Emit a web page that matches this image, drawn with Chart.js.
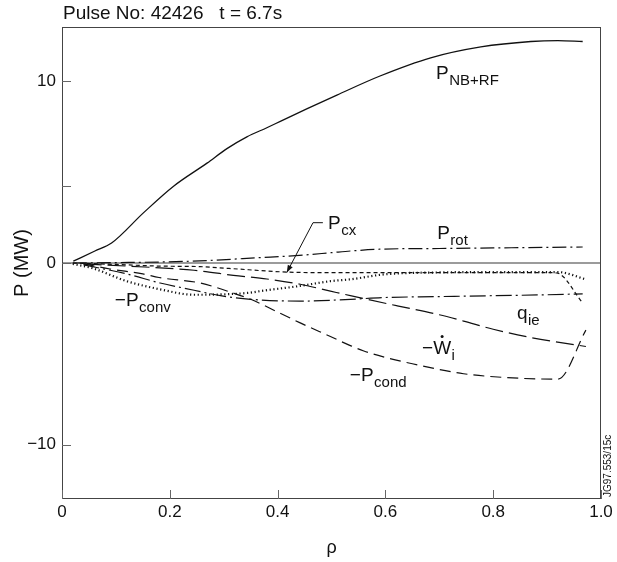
<!DOCTYPE html>
<html>
<head>
<meta charset="utf-8">
<script src="https://cdn.jsdelivr.net/npm/chart.js@4"></script>
<style>
  html, body { margin: 0; padding: 0; background: #fff; }
  #wrap { width: 617px; height: 562px; }
</style>
</head>
<body>
<div id="wrap"><canvas id="chart" width="617" height="562"></canvas></div>
<script>
/* Bilan de puissance ionique, JET pulse 42426 */

const FONT = "'Liberation Sans', Arial, sans-serif";

// axes
const xTicks = [0, 0.2, 0.4, 0.6, 0.8, 1.0];
const xTickLabels = ['0', '0.2', '0.4', '0.6', '0.8', '1.0'];
const yTicks = [-10, 0, 4.25, 10];
const yTickLabels = ['\u221210', '0', '', '10'];

// P_NB+RF
const rhoNbrf = [0.021, 0.061, 0.092, 0.151, 0.207, 0.269, 0.306, 0.343, 0.38, 0.405, 0.455, 0.51, 0.59, 0.684, 0.777, 0.87, 0.92, 0.966];
const pNbrf   = [0.1, 0.66, 1.1, 2.76, 4.23, 5.5, 6.3, 6.95, 7.45, 7.8, 8.5, 9.25, 10.3, 11.3, 11.9, 12.2, 12.25, 12.2];

// P_rot
const rhoRot = [0.02, 0.1, 0.24, 0.37, 0.44, 0.5, 0.535, 0.59, 0.7, 0.8, 0.9, 0.966];
const pRot   = [0, 0.02, 0.1, 0.3, 0.42, 0.57, 0.66, 0.76, 0.8, 0.83, 0.86, 0.88];

// P_cx
const rhoCx = [0.02, 0.1, 0.18, 0.256, 0.31, 0.418, 0.5, 0.6, 0.7, 0.8, 0.9, 0.918, 0.966];
const pCx   = [0, -0.08, -0.17, -0.2, -0.3, -0.5, -0.53, -0.53, -0.53, -0.53, -0.53, -0.55, -2.2];

// -P_conv
const rhoConv = [0.02, 0.058, 0.12, 0.182, 0.245, 0.306, 0.35, 0.37, 0.442, 0.498, 0.535, 0.6, 0.7, 0.8, 0.92, 0.972];
const pConv   = [-0.05, -0.3, -1.0, -1.45, -1.75, -1.72, -1.63, -1.54, -1.26, -1.0, -0.9, -0.62, -0.52, -0.5, -0.5, -0.9];

// q_ie
const rhoQie = [0.04, 0.12, 0.182, 0.245, 0.294, 0.35, 0.442, 0.535, 0.6, 0.7, 0.8, 0.9, 0.966];
const pQie   = [-0.1, -0.6, -1.1, -1.5, -1.8, -2.0, -2.1, -2.0, -1.9, -1.85, -1.8, -1.75, -1.7];

// -dW_i/dt
const rhoWi = [0.04, 0.12, 0.245, 0.318, 0.38, 0.442, 0.498, 0.535, 0.622, 0.7, 0.745, 0.8, 0.869, 0.972];
const pWi   = [-0.05, -0.17, -0.4, -0.68, -0.88, -1.17, -1.55, -1.8, -2.36, -2.85, -3.2, -3.65, -4.1, -4.6];

// -P_cond
const rhoCond = [0.04, 0.089, 0.15, 0.18, 0.256, 0.306, 0.35, 0.4, 0.442, 0.498, 0.535, 0.56, 0.6, 0.65, 0.745, 0.85, 0.92, 0.972];
const pCond   = [-0.05, -0.33, -0.6, -0.8, -1.1, -1.54, -2.0, -2.7, -3.3, -4.05, -4.55, -4.85, -5.2, -5.55, -6.1, -6.35, -6.4, -3.7];

function pts(rho, p) { return rho.map((r, i) => ({ x: r, y: p[i] })); }

function curve(label, rho, p, dash, width) {
  return {
    label,
    data: pts(rho, p),
    borderColor: '#111',
    borderWidth: width || 1.2,
    borderDash: dash || [],
    pointRadius: 0,
    fill: false,
    cubicInterpolationMode: 'monotone'
  };
}

// étiquettes des courbes (coordonnées en unités des axes)
const notes = [
  { main: 'P', sub: 'NB+RF', x: 0.694, y: 10.14 },
  { main: 'P', sub: 'cx', x: 0.4935, y: 1.87 },
  { main: 'P', sub: 'rot', x: 0.696, y: 1.32 },
  { main: 'q', sub: 'ie', x: 0.844, y: -3.09 },
  { main: '\u2212W', sub: 'i', x: 0.668, y: -5.01, dot: true },
  { main: '\u2212P', sub: 'cond', x: 0.534, y: -6.5 },
  { main: '\u2212P', sub: 'conv', x: 0.098, y: -2.37 }
];
// flèche P_cx : départ, coude, pointe
const cxArrow = { x0: 0.484, y0: 2.22, x1: 0.4657, y1: 2.22, x2: 0.417, y2: -0.53 };

const decor = {
  id: 'decor',
  beforeDatasetsDraw(chart) {
    const { ctx, chartArea: a, scales: { y } } = chart;
    const y0 = y.getPixelForValue(0);
    ctx.save();
    ctx.strokeStyle = '#7a7a7a';
    ctx.lineWidth = 1.5;
    ctx.beginPath();
    ctx.moveTo(a.left, y0);
    ctx.lineTo(a.right, y0);
    ctx.stroke();
    ctx.restore();
  },
  afterDraw(chart) {
    const { ctx, chartArea: a, scales: { x, y } } = chart;
    ctx.save();

    // cadre
    ctx.strokeStyle = '#444';
    ctx.lineWidth = 1;
    ctx.strokeRect(a.left + 0.5, a.top + 0.5, a.right - a.left - 1, a.bottom - a.top - 1);

    // graduations vers l'intérieur
    ctx.strokeStyle = '#666';
    ctx.beginPath();
    x.ticks.forEach(t => {
      const px = Math.round(x.getPixelForValue(t.value)) + 0.5;
      ctx.moveTo(px, a.bottom);
      ctx.lineTo(px, a.bottom - 9);
    });
    y.ticks.forEach(t => {
      const py = Math.round(y.getPixelForValue(t.value)) + 0.5;
      ctx.moveTo(a.left, py);
      ctx.lineTo(a.left + 9, py);
    });
    ctx.stroke();

    // titre
    ctx.fillStyle = '#111';
    ctx.font = '19px ' + FONT;
    ctx.textBaseline = 'alphabetic';
    ctx.textAlign = 'left';
    ctx.fillText('Pulse No: 42426   t = 6.7s', 63, 19);

    // étiquettes
    notes.forEach(n => {
      const px = x.getPixelForValue(n.x);
      const py = y.getPixelForValue(n.y);
      ctx.font = '19px ' + FONT;
      ctx.fillText(n.main, px, py);
      const w = ctx.measureText(n.main).width;
      if (n.dot) {
        const wW = ctx.measureText('W').width;
        ctx.beginPath();
        ctx.arc(px + w - wW / 2, py - 17.5, 1.5, 0, Math.PI * 2);
        ctx.fill();
      }
      ctx.font = '15px ' + FONT;
      ctx.fillText(n.sub, px + w + 0.5, py + 6);
    });

    // flèche vers P_cx
    const ax0 = x.getPixelForValue(cxArrow.x0), ay0 = y.getPixelForValue(cxArrow.y0);
    const ax1 = x.getPixelForValue(cxArrow.x1), ay1 = y.getPixelForValue(cxArrow.y1);
    const ax2 = x.getPixelForValue(cxArrow.x2), ay2 = y.getPixelForValue(cxArrow.y2);
    ctx.strokeStyle = '#111';
    ctx.lineWidth = 1;
    ctx.beginPath();
    ctx.moveTo(ax0, ay0);
    ctx.lineTo(ax1, ay1);
    ctx.lineTo(ax2, ay2);
    ctx.stroke();
    const ang = Math.atan2(ay2 - ay1, ax2 - ax1);
    ctx.beginPath();
    ctx.moveTo(ax2, ay2);
    ctx.lineTo(ax2 - 8 * Math.cos(ang - 0.35), ay2 - 8 * Math.sin(ang - 0.35));
    ctx.lineTo(ax2 - 8 * Math.cos(ang + 0.35), ay2 - 8 * Math.sin(ang + 0.35));
    ctx.closePath();
    ctx.fill();

    // référence figure
    ctx.font = '10px ' + FONT;
    ctx.translate(611, a.bottom - 2);
    ctx.rotate(-Math.PI / 2);
    ctx.fillText('JG97.553/15c', 0, 0);
    ctx.restore();
  }
};

new Chart(document.getElementById('chart').getContext('2d'), {
  type: 'line',
  data: {
    datasets: [
      curve('P_NB+RF', rhoNbrf, pNbrf, [], 1.3),
      curve('P_rot', rhoRot, pRot, [14, 4, 2, 4]),
      curve('P_cx', rhoCx, pCx, [4, 3]),
      curve('-P_conv', rhoConv, pConv, [1.2, 2.6], 2.2),
      curve('q_ie', rhoQie, pQie, [16, 4, 2, 4]),
      curve('-dW_i/dt', rhoWi, pWi, [18, 6]),
      curve('-P_cond', rhoCond, pCond, [11, 6])
    ]
  },
  options: {
    responsive: false,
    animation: false,
    layout: { padding: { top: 27, right: 16, left: 0, bottom: 0 } },
    plugins: { legend: { display: false }, tooltip: { enabled: false } },
    scales: {
      x: {
        type: 'linear',
        min: 0,
        max: 1,
        afterBuildTicks: s => { s.ticks = xTicks.map(v => ({ value: v })); },
        afterFit: s => { s.height = 63; },
        ticks: {
          color: '#111',
          font: { family: FONT, size: 17 },
          padding: 3,
          maxRotation: 0,
          autoSkip: false,
          callback: (v, i) => xTickLabels[i]
        },
        grid: { display: false, drawTicks: false },
        border: { display: false },
        title: { display: true, text: '\u03C1', color: '#111', font: { family: FONT, size: 18 }, padding: { top: 0, bottom: 3 } }
      },
      y: {
        type: 'linear',
        min: -13,
        max: 13,
        afterBuildTicks: s => { s.ticks = yTicks.map(v => ({ value: v })); },
        afterFit: s => { s.width = 62; },
        ticks: {
          color: '#111',
          font: { family: FONT, size: 17 },
          padding: 6,
          autoSkip: false,
          callback: (v, i) => yTickLabels[i]
        },
        grid: { display: false, drawTicks: false },
        border: { display: false },
        title: { display: true, text: 'P (MW)', color: '#111', font: { family: FONT, size: 20 }, padding: { top: 10, bottom: 0 } }
      }
    }
  },
  plugins: [decor]
});
</script>
</body>
</html>
